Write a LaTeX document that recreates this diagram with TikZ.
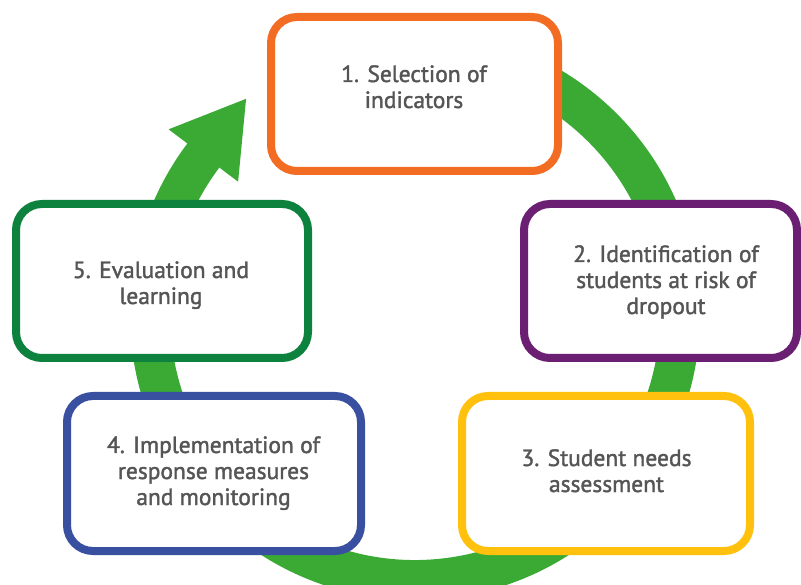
\documentclass[tikz,border=0pt]{standalone}
\usepackage{fontspec}
\setmainfont{PT Sans}[FakeBold=1.6]
\usetikzlibrary{calc}
\definecolor{ringgreen}{RGB}{58,170,53}
\definecolor{corange}{RGB}{242,108,35}
\definecolor{cpurple}{RGB}{107,31,115}
\definecolor{cyellow}{RGB}{255,193,14}
\definecolor{cblue}{RGB}{57,79,160}
\definecolor{cdgreen}{RGB}{13,130,62}
\definecolor{txtgray}{RGB}{85,85,85}
\tikzset{
  stepbox/.style={rectangle, rounded corners=26, line width=8, fill=white, inner sep=0},
  txt/.style={anchor=base, inner sep=0, text=txtgray, font=\fontsize{23.5}{26}\selectfont},
}
\begin{document}
\begin{tikzpicture}[x=1pt,y=1pt]
\useasboundingbox (0,0) rectangle (801,-585);
\fill[white] (0,0) rectangle (801,-585);
\coordinate (c) at (415,-315);
% green ring
\draw[ringgreen, line width=40] (c) ++(100:265) arc[start angle=100, end angle=-218, radius=265];
\coordinate (w1) at ($(c)+(143:308.5)$);
\coordinate (w2) at ($(c)+(143:221.5)$);
\coordinate (tip) at ($(c)+(143:265)+(53:71)$);
\fill[ringgreen] (w1) -- (tip) -- (w2) -- cycle;
% boxes
\node[stepbox, draw=corange, minimum width=287, minimum height=154] (b1) at (414.5,-94) {};
\node[stepbox, draw=cpurple, minimum width=273, minimum height=154] (b2) at (660.5,-281) {};
\node[stepbox, draw=cyellow, minimum width=288, minimum height=155] (b3) at (606,-473.5) {};
\node[stepbox, draw=cblue, minimum width=294, minimum height=155] (b4) at (214,-473.5) {};
\node[stepbox, draw=cdgreen, minimum width=292, minimum height=154] (b5) at (162,-281) {};
% texts
\node[txt] (t1) at (414,-82) {\begin{tabular}[t]{@{}c@{}}1. Selection of\\indicators\end{tabular}};
\node[txt] (t2) at (666,-262) {\begin{tabular}[t]{@{}c@{}}2. Identification of\\students at risk of\\dropout\end{tabular}};
\node[txt] (t3) at (606.5,-466) {\begin{tabular}[t]{@{}c@{}}3. Student needs\\assessment\end{tabular}};
\node[txt] (t4) at (213.5,-453) {\begin{tabular}[t]{@{}c@{}}4. Implementation of\\response measures\\and monitoring\end{tabular}};
\node[txt] (t5) at (161,-278) {\begin{tabular}[t]{@{}c@{}}5. Evaluation and\\learning\end{tabular}};
\end{tikzpicture}
\end{document}
